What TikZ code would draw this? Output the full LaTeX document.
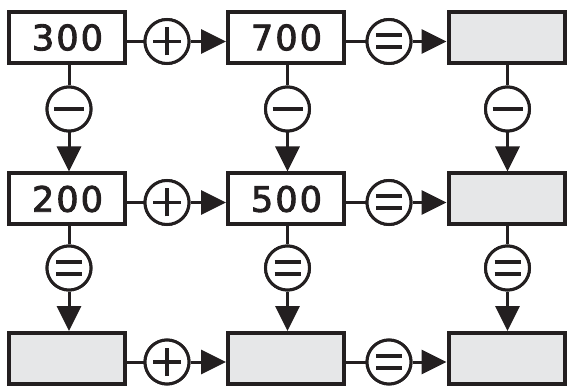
\documentclass[tikz,border=0pt]{standalone}
\usepackage{fontspec}
\setmainfont{DejaVu Sans}
\newfontfamily\numfont[FakeBold=2.6,LetterSpace=6]{DejaVu Sans}
\usetikzlibrary{arrows.meta}
\definecolor{ink}{HTML}{231F20}
\definecolor{boxgray}{HTML}{E6E7E8}
\tikzset{
  box/.style={draw=ink, line width=4pt, rectangle, minimum width=116pt, minimum height=51pt, inner sep=0pt, font=\numfont\fontsize{35}{35}\selectfont, text=ink},
  blank/.style={box, fill=boxgray},
  op/.style={draw=ink, line width=3pt, circle, minimum size=44pt, inner sep=0pt, fill=white},
  opplus/.style={op, path picture={
    \draw[ink, line width=3.5pt] ([xshift=-14pt]path picture bounding box.center) -- ([xshift=14pt]path picture bounding box.center);
    \draw[ink, line width=3.5pt] ([yshift=-14pt]path picture bounding box.center) -- ([yshift=14pt]path picture bounding box.center);}},
  opminus/.style={op, path picture={
    \draw[ink, line width=4pt] ([xshift=-15pt]path picture bounding box.center) -- ([xshift=15pt]path picture bounding box.center);}},
  opeq/.style={op, path picture={
    \draw[ink, line width=4pt] ([xshift=-13pt,yshift=6pt]path picture bounding box.center) -- ([xshift=13pt,yshift=6pt]path picture bounding box.center);
    \draw[ink, line width=4pt] ([xshift=-13pt,yshift=-6pt]path picture bounding box.center) -- ([xshift=13pt,yshift=-6pt]path picture bounding box.center);}},
  conn/.style={draw=ink, line width=3pt},
  arr/.style={conn, -{Triangle[length=25pt,width=24pt]}}
}
\begin{document}
\begin{tikzpicture}[x=1pt,y=-1pt]
\useasboundingbox (0,0) rectangle (567,387);
% boxes
\node[box]   (b11) at (67,37.5)   {\hspace{1pt}\raisebox{-2.5pt}{300}};
\node[box]   (b12) at (286,37.5)  {\hspace{1pt}\raisebox{-2.5pt}{700}};
\node[blank] (b13) at (506.5,37.5) {};
\node[box]   (b21) at (67,199)    {\hspace{1pt}\raisebox{-2.5pt}{200}};
\node[box]   (b22) at (286,199)   {\hspace{1pt}\raisebox{-2.5pt}{500}};
\node[blank] (b23) at (506.5,199) {};
\node[blank] (b31) at (67,358.5)  {};
\node[blank] (b32) at (286,358.5) {};
\node[blank] (b33) at (506.5,358.5) {};
% horizontal operators
\node[opplus]  (h11) at (167,41.5) {};
\node[opeq]    (h12) at (389,41.5) {};
\node[opplus]  (h21) at (167,202.5) {};
\node[opeq]    (h22) at (389,202.5) {};
\node[opplus]  (h31) at (167,362) {};
\node[opeq]    (h32) at (389,362) {};
% vertical operators
\node[opminus] (v11) at (69,109) {};
\node[opminus] (v12) at (287.5,109) {};
\node[opminus] (v13) at (507.5,109) {};
\node[opeq]    (v21) at (69,268) {};
\node[opeq]    (v22) at (287.5,268) {};
\node[opeq]    (v23) at (507.5,268) {};
% horizontal connectors
\foreach \r in {1,2,3}{
  \draw[conn] (b\r1.east |- h\r1) -- (h\r1);
  \draw[arr]  (h\r1) -- (h\r1 -| b\r2.west);
  \draw[conn] (b\r2.east |- h\r2) -- (h\r2);
  \draw[arr]  (h\r2) -- (h\r2 -| b\r3.west);
}
% vertical connectors
\foreach \c in {1,2,3}{
  \draw[conn] (v1\c |- b1\c.south) -- (v1\c);
  \draw[arr]  (v1\c) -- (v1\c |- b2\c.north);
  \draw[conn] (v2\c |- b2\c.south) -- (v2\c);
  \draw[arr]  (v2\c) -- (v2\c |- b3\c.north);
}
% redraw operators on top of connector lines
\node[opplus]  at (h11) {};
\node[opeq]    at (h12) {};
\node[opplus]  at (h21) {};
\node[opeq]    at (h22) {};
\node[opplus]  at (h31) {};
\node[opeq]    at (h32) {};
\node[opminus] at (v11) {};
\node[opminus] at (v12) {};
\node[opminus] at (v13) {};
\node[opeq]    at (v21) {};
\node[opeq]    at (v22) {};
\node[opeq]    at (v23) {};
\end{tikzpicture}
\end{document}
